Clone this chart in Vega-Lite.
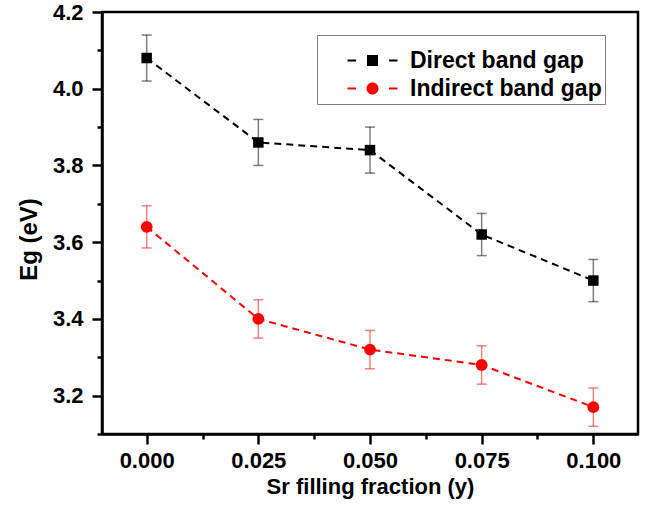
{
  "$schema": "https://vega.github.io/schema/vega-lite/v6.json",
  "width": 536,
  "height": 422,
  "autosize": {"type": "none"},
  "padding": {"left": 102, "top": 12, "right": 11, "bottom": 71},
  "background": "white",
  "config": {
    "font": "Liberation Sans",
    "view": {"stroke": "black", "strokeWidth": 2.5},
    "axis": {
      "grid": false,
      "domainColor": "black",
      "domainWidth": 2.5,
      "tickColor": "black",
      "tickWidth": 2.5,
      "tickSize": 10,
      "labelFont": "Liberation Sans",
      "labelFontSize": 22,
      "labelFontWeight": "bold",
      "labelColor": "black",
      "titleFont": "Liberation Sans",
      "titleFontWeight": "bold",
      "titleColor": "black"
    },
    "legend": {
      "orient": "none",
      "legendX": 215,
      "legendY": 23,
      "labelFont": "Liberation Sans",
      "labelFontSize": 23,
      "labelFontWeight": "bold",
      "labelColor": "black",
      "labelLimit": 400,
      "labelExpr": "datum.label + '  '",
      "titleFontSize": 6,
      "titlePadding": 5,
      "symbolSize": 100,
      "symbolStrokeWidth": 0,
      "symbolOpacity": 1,
      "symbolOffset": 41,
      "labelOffset": 26,
      "rowPadding": 4,
      "padding": 3,
      "strokeColor": "#7f7f7f",
      "fillColor": "white"
    }
  },
  "data": {
    "values": [
      {"x": 0.0, "series": "Direct band gap", "Eg": 4.08, "lo": 4.02, "hi": 4.14},
      {"x": 0.025, "series": "Direct band gap", "Eg": 3.86, "lo": 3.80, "hi": 3.92},
      {"x": 0.05, "series": "Direct band gap", "Eg": 3.84, "lo": 3.78, "hi": 3.90},
      {"x": 0.075, "series": "Direct band gap", "Eg": 3.62, "lo": 3.565, "hi": 3.675},
      {"x": 0.1, "series": "Direct band gap", "Eg": 3.50, "lo": 3.445, "hi": 3.555},
      {"x": 0.0, "series": "Indirect band gap", "Eg": 3.64, "lo": 3.585, "hi": 3.695},
      {"x": 0.025, "series": "Indirect band gap", "Eg": 3.40, "lo": 3.35, "hi": 3.45},
      {"x": 0.05, "series": "Indirect band gap", "Eg": 3.32, "lo": 3.27, "hi": 3.37},
      {"x": 0.075, "series": "Indirect band gap", "Eg": 3.28, "lo": 3.23, "hi": 3.33},
      {"x": 0.1, "series": "Indirect band gap", "Eg": 3.17, "lo": 3.12, "hi": 3.22}
    ]
  },
  "encoding": {
    "x": {
      "field": "x",
      "type": "quantitative",
      "scale": {"domain": [-0.01, 0.11], "nice": false, "zero": false},
      "axis": {
        "title": "Sr filling fraction (y)",
        "titleFontSize": 22,
        "titleBaseline": "alphabetic",
        "titleY": 59,
        "values": [0, 0.0125, 0.025, 0.0375, 0.05, 0.0625, 0.075, 0.0875, 0.1],
        "labelExpr": "abs(datum.value*40 - round(datum.value*40)) < 0.001 ? format(datum.value, '.3f') : ''",
        "tickDash": {"condition": {"test": "abs(datum.value*40 - round(datum.value*40)) < 0.001", "value": []}, "value": [5, 100]},
        "labelPadding": 6,
        "labelFlush": false,
        "labelOverlap": false
      }
    },
    "y": {
      "field": "Eg",
      "type": "quantitative",
      "scale": {"domain": [3.1, 4.2], "nice": false, "zero": false},
      "axis": {
        "title": "Eg (eV)",
        "titleFontSize": 24,
        "titleAngle": -90,
        "titleAlign": "center",
        "titleBaseline": "alphabetic",
        "titleX": -66,
        "titleY": 227,
        "values": [3.1, 3.2, 3.3, 3.4, 3.5, 3.6, 3.7, 3.8, 3.9, 4.0, 4.1, 4.2],
        "labelExpr": "abs(datum.value*5 - round(datum.value*5)) < 0.001 ? format(datum.value, '.1f') : ''",
        "tickDash": {"condition": {"test": "abs(datum.value*5 - round(datum.value*5)) < 0.001", "value": []}, "value": [5, 100]},
        "labelPadding": 9,
        "labelFlush": false,
        "labelOverlap": false
      }
    },
    "color": {
      "field": "series",
      "type": "nominal",
      "scale": {"domain": ["Direct band gap", "Indirect band gap"], "range": ["#000000", "#ff0000"]},
      "legend": {"title": " "}
    }
  },
  "layer": [
    {
      "mark": {"type": "point", "filled": true, "opacity": 0},
      "encoding": {
        "shape": {
          "field": "series",
          "type": "nominal",
          "scale": {
            "domain": ["Direct band gap", "Indirect band gap"],
            "range": [
              "M-5,-0.2H-3.3V0.2H-5ZM3.3,-0.2H5V0.2H3.3ZM-1.1,-1.1H1.1V1.1H-1.1Z",
              "M-5,-0.2H-3.3V0.2H-5ZM3.3,-0.2H5V0.2H3.3ZM-1.2,0A1.2,1.2,0,1,1,1.2,0A1.2,1.2,0,1,1,-1.2,0Z"
            ]
          },
          "legend": {"title": " "}
        }
      }
    },
    {
      "mark": {"type": "rule", "opacity": 0.5, "strokeWidth": 1.5},
      "encoding": {
        "y": {"field": "lo", "type": "quantitative"},
        "y2": {"field": "hi"}
      }
    },
    {
      "mark": {"type": "tick", "orient": "horizontal", "opacity": 0.5, "size": 10, "thickness": 1.5},
      "encoding": {"y": {"field": "lo", "type": "quantitative"}}
    },
    {
      "mark": {"type": "tick", "orient": "horizontal", "opacity": 0.5, "size": 10, "thickness": 1.5},
      "encoding": {"y": {"field": "hi", "type": "quantitative"}}
    },
    {
      "mark": {"type": "line", "strokeDash": [7, 5], "strokeWidth": 2},
      "encoding": {}
    },
    {
      "transform": [{"filter": "datum.series === 'Direct band gap'"}],
      "mark": {"type": "square", "opacity": 1, "size": 110},
      "encoding": {}
    },
    {
      "transform": [{"filter": "datum.series === 'Indirect band gap'"}],
      "mark": {"type": "circle", "opacity": 1, "size": 140},
      "encoding": {}
    }
  ]
}
